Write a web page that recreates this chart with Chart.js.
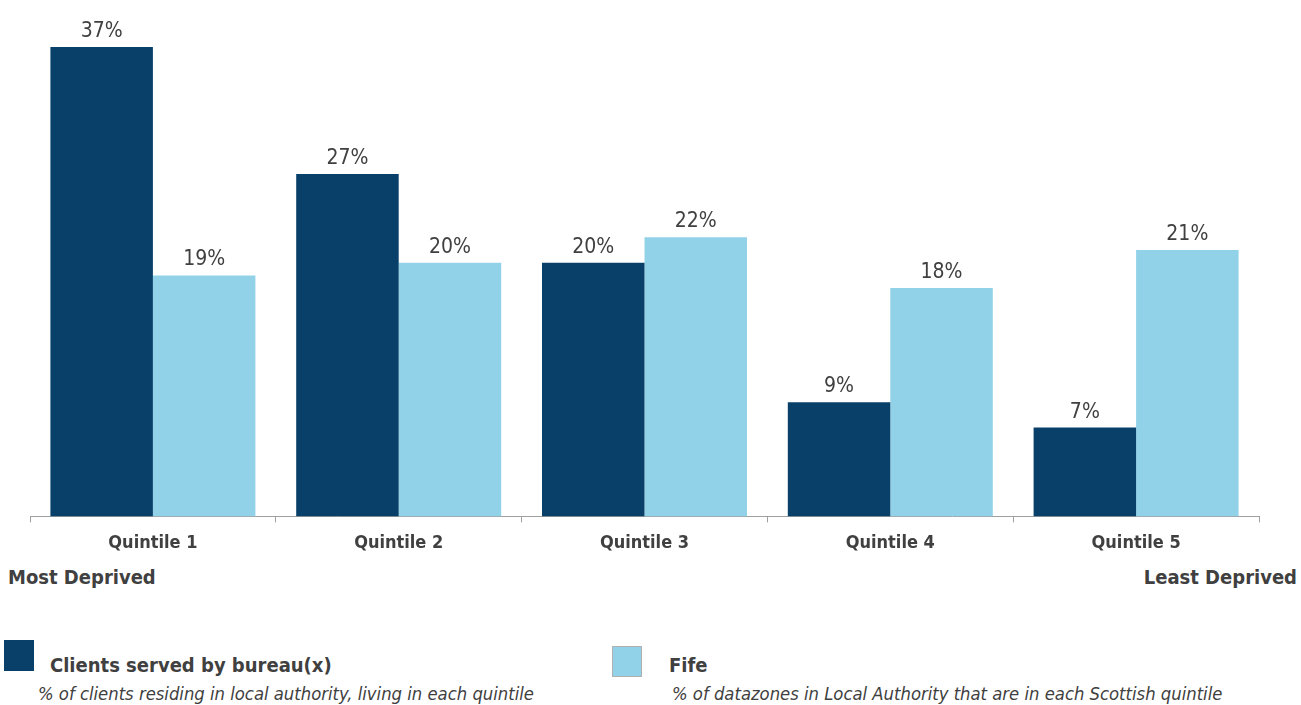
<!DOCTYPE html>
<html>
<head>
<meta charset="utf-8">
<script src="https://cdn.jsdelivr.net/npm/chart.js@4"></script>
<style>
  body { margin: 0; background: #fff; width: 1301px; height: 705px; overflow: hidden; position: relative; font-family: 'DejaVu Sans Condensed', 'DejaVu Sans', sans-serif; color: #404040; }
  #wrap { position: absolute; left: 0; top: 0; width: 1301px; height: 564px; }
  .lbl { position: absolute; font-weight: bold; font-size: 20px; white-space: nowrap; line-height: 24px; }
  .sw { position: absolute; width: 30px; height: 31px; }
  .lt { position: absolute; font-weight: bold; font-size: 20px; white-space: nowrap; line-height: 24px; }
  .ls { position: absolute; font-style: italic; font-size: 18.3px; white-space: nowrap; line-height: 22px; }
</style>
</head>
<body>
<div id="wrap"><canvas id="chart"></canvas></div>
<div class="lbl" style="left:8px; top:565px;">Most Deprived</div>
<div class="lbl" style="right:4px; top:565px;">Least Deprived</div>

<div class="sw" style="left:4px; top:640px; background:#08406A;"></div>
<div class="lt" style="left:50px; top:653px;">Clients served by bureau(x)</div>
<div class="ls" style="left:38px; top:683px;">% of clients residing in local authority, living in each quintile</div>

<div class="sw" style="left:612px; top:646px; background:#92D2E8; border:1px solid #b0b0b0; box-sizing:border-box;"></div>
<div class="lt" style="left:669px; top:653px;">Fife</div>
<div class="ls" style="left:672px; top:683px;">% of datazones in Local Authority that are in each Scottish quintile</div>

<script>
const categories = ['Quintile 1', 'Quintile 2', 'Quintile 3', 'Quintile 4', 'Quintile 5'];
const clientsValues = [37, 27, 20, 9, 7];
const fifeValues = [19, 20, 22, 18, 21];

// draws the percentage above each bar
const valueLabels = {
  id: 'valueLabels',
  afterDatasetsDraw(chart) {
    const ctx = chart.ctx;
    ctx.save();
    ctx.font = "21px 'DejaVu Sans Condensed', 'DejaVu Sans', sans-serif";
    ctx.fillStyle = '#404040';
    ctx.textAlign = 'center';
    ctx.textBaseline = 'alphabetic';
    chart.data.datasets.forEach((ds, i) => {
      chart.getDatasetMeta(i).data.forEach((bar, j) => {
        ctx.fillText(ds.data[j] + '%', bar.x, bar.y - 10);
      });
    });
    ctx.restore();
  }
};

new Chart(document.getElementById('chart'), {
  type: 'bar',
  data: {
    labels: categories,
    datasets: [
      { label: 'Clients served by bureau(x)', data: clientsValues, backgroundColor: '#08406A' },
      { label: 'Fife', data: fifeValues, backgroundColor: '#92D2E8' }
    ]
  },
  options: {
    responsive: true,
    maintainAspectRatio: false,
    animation: false,
    layout: { padding: { top: 9, left: 30, right: 42, bottom: 0 } },
    categoryPercentage: 0.834,
    barPercentage: 1,
    plugins: { legend: { display: false }, tooltip: { enabled: false } },
    scales: {
      x: {
        grid: { display: true, offset: true, drawOnChartArea: false, drawTicks: true, tickLength: 6, color: '#a0a0a0' },
        border: { display: true, color: '#a0a0a0', width: 1 },
        ticks: { color: '#404040', font: { family: "'DejaVu Sans Condensed', 'DejaVu Sans', sans-serif", size: 18, weight: 'bold' }, padding: 10 }
      },
      y: { display: false, min: 0, max: 40 }
    }
  },
  plugins: [valueLabels]
});
</script>
</body>
</html>
